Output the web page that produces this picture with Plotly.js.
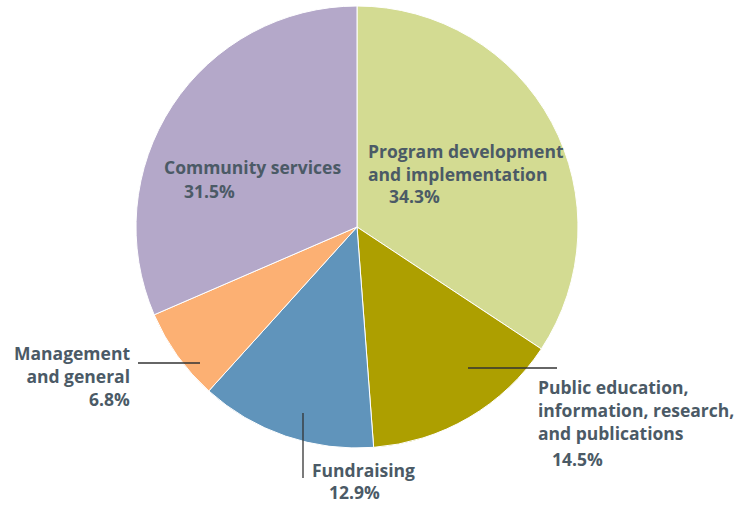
<!DOCTYPE html>
<html>
<head>
<meta charset="utf-8">
<script src="https://cdn.plot.ly/plotly-3.0.1.min.js"></script>
<style>html,body{margin:0;padding:0;background:#fff;}#chart{width:747px;height:508px;}</style>
</head>
<body>
<div id="chart"></div>
<script>
// Data
const categories = ["Program development<br>and implementation", "Public education,<br>information, research,<br>and publications", "Fundraising", "Management<br>and general", "Community services"];
const values = [34.3, 14.5, 12.9, 6.8, 31.5];
const pctLabels = ["34.3%", "14.5%", "12.9%", "6.8%", "31.5%"];
const colors = ["#d3db92", "#ad9f00", "#6094bb", "#fcb073", "#b4a8c9"];

// Layout positions (pixels) for labels
const W = 747, H = 508;
const namePos = [
  {x: 366, y: 137, anchor: "left", align: "left"},
  {x: 536, y: 373, anchor: "left", align: "left"},
  {x: 310, y: 456, anchor: "left", align: "left"},
  {x: 132, y: 339, anchor: "right", align: "right"},
  {x: 162, y: 153, anchor: "left", align: "left"}
];
const pctPos = [
  {x: 387, y: 182, anchor: "left"},
  {x: 550, y: 445, anchor: "left"},
  {x: 327, y: 478, anchor: "left"},
  {x: 132, y: 385, anchor: "right"},
  {x: 182, y: 177, anchor: "left"}
];
const px = x => x / W;
const py = y => 1 - y / H;

const textColor = "#4b5a66";
const font = {family: "Open Sans, Noto Sans, sans-serif", size: 17.5, color: textColor, weight: 700};

const annotations = [];
categories.forEach((c, i) => {
  annotations.push({text: "<b>" + c + "</b>", x: px(namePos[i].x), y: py(namePos[i].y), xref: "paper", yref: "paper",
    xanchor: namePos[i].anchor, yanchor: "top", align: namePos[i].align, showarrow: false, font: font});
  annotations.push({text: "<b>" + pctLabels[i] + "</b>", x: px(pctPos[i].x), y: py(pctPos[i].y), xref: "paper", yref: "paper",
    xanchor: pctPos[i].anchor, yanchor: "top", align: "left", showarrow: false, font: font});
});

const lineStyle = {color: "#333333", width: 1.3};
const shapes = [
  {type: "line", xref: "paper", yref: "paper", x0: px(138), x1: px(200), y0: py(363), y1: py(363), line: lineStyle},
  {type: "line", xref: "paper", yref: "paper", x0: px(468), x1: px(557), y0: py(368), y1: py(368), line: lineStyle},
  {type: "line", xref: "paper", yref: "paper", x0: px(303), x1: px(303), y0: py(413), y1: py(478), line: lineStyle}
];

const cx = 357, cy = 227, r = 221;
const trace = {
  type: "pie",
  values: values,
  labels: categories,
  sort: false,
  direction: "clockwise",
  rotation: 0,
  textinfo: "none",
  hoverinfo: "none",
  marker: {colors: colors, line: {color: "#ffffff", width: 1}},
  domain: {x: [px(cx - r), px(cx + r)], y: [py(cy + r), py(cy - r)]},
  showlegend: false
};

const layout = {
  width: W, height: H,
  margin: {l: 0, r: 0, t: 0, b: 0},
  paper_bgcolor: "#ffffff",
  showlegend: false,
  annotations: annotations,
  shapes: shapes
};

Plotly.newPlot("chart", [trace], layout, {displayModeBar: false, staticPlot: true});
</script>
</body>
</html>
